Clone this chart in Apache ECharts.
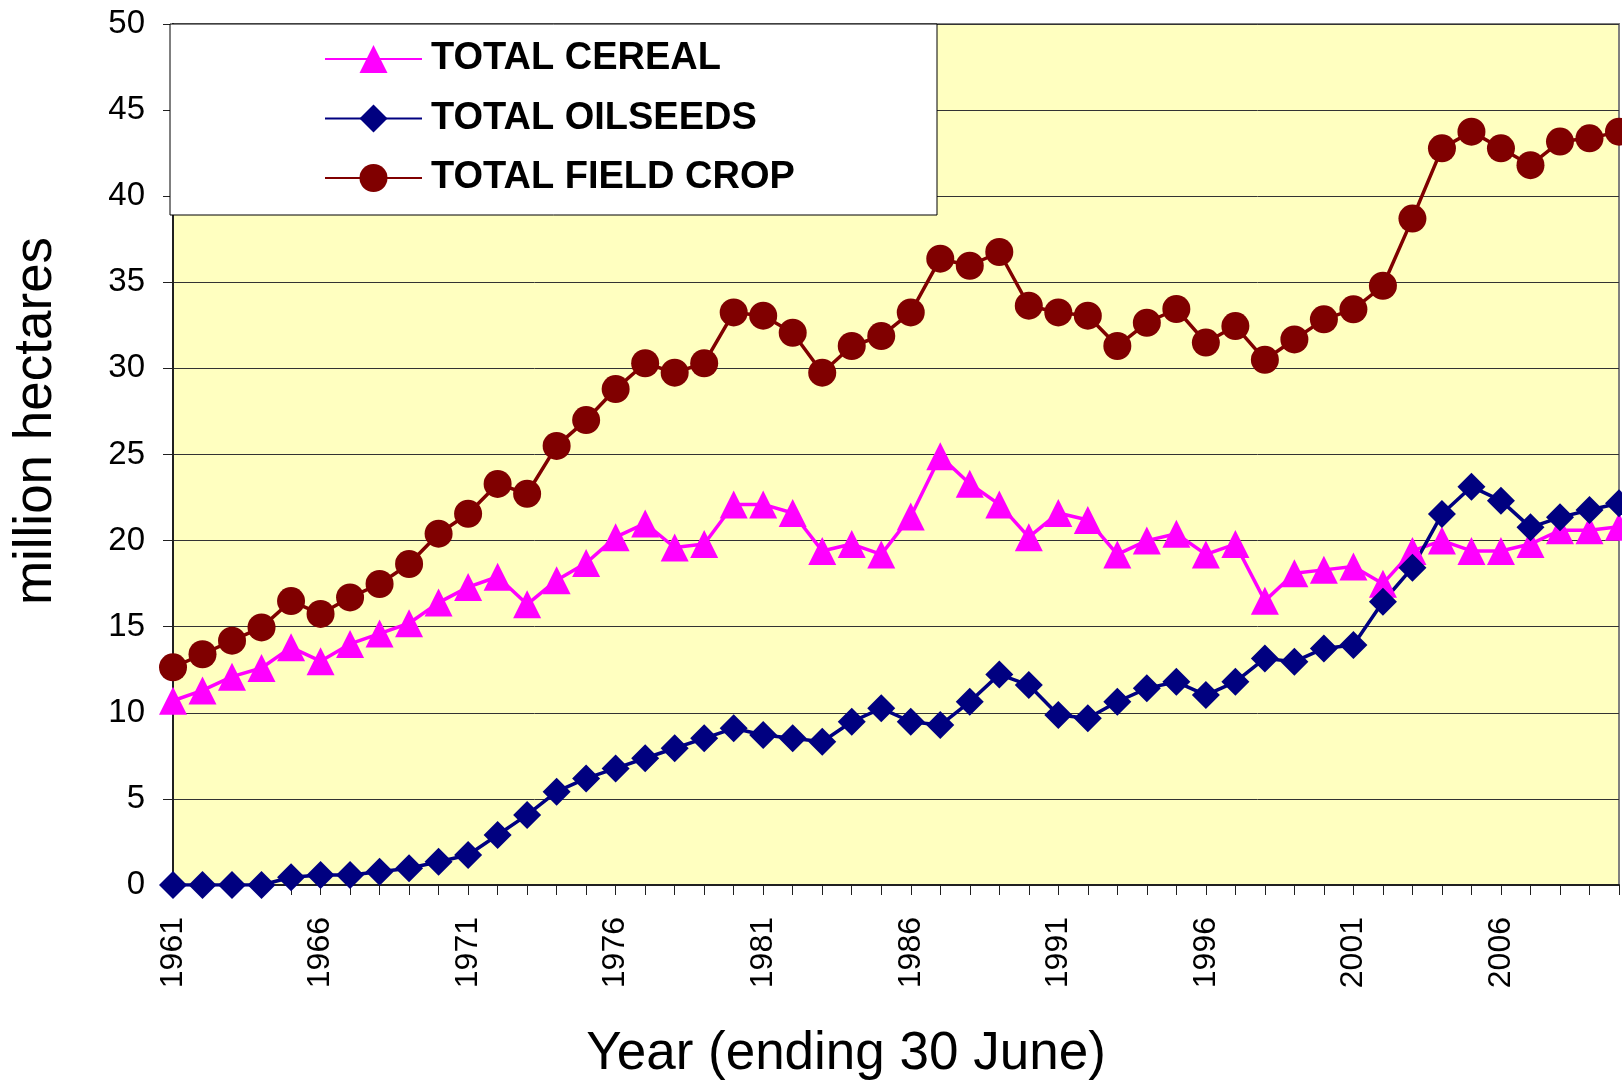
<!DOCTYPE html>
<html>
<head>
<meta charset="utf-8">
<script src="https://cdn.jsdelivr.net/npm/echarts@6/dist/echarts.min.js"></script>
<style>
  html, body { margin: 0; padding: 0; background: #fff; }
  #chart { width: 1622px; height: 1082px; }
</style>
</head>
<body>
<div id="chart"></div>
<script>
// years (ending 30 June)
const years = ['1961', '1962', '1963', '1964', '1965', '1966', '1967', '1968', '1969', '1970',
  '1971', '1972', '1973', '1974', '1975', '1976', '1977', '1978', '1979', '1980',
  '1981', '1982', '1983', '1984', '1985', '1986', '1987', '1988', '1989', '1990',
  '1991', '1992', '1993', '1994', '1995', '1996', '1997', '1998', '1999', '2000',
  '2001', '2002', '2003', '2004', '2005', '2006', '2007', '2008', '2009', '2010']

// million hectares
const cereal = [10.7, 11.3, 12.1, 12.6, 13.8, 13.0, 14.0, 14.6, 15.2, 16.4,
  17.3, 17.9, 16.3, 17.7, 18.7, 20.2, 21.0, 19.6, 19.8, 22.1,
  22.1, 21.6, 19.4, 19.8, 19.2, 21.4, 24.9, 23.3, 22.1, 20.2,
  21.6, 21.2, 19.2, 20.0, 20.4, 19.2, 19.8, 16.5, 18.1, 18.3,
  18.5, 17.5, 19.4, 20.0, 19.4, 19.4, 19.8, 20.6, 20.6, 20.8]

const oilseeds = [0, 0, 0, 0, 0.45, 0.58, 0.58, 0.77, 0.97, 1.35,
  1.74, 2.9, 4.07, 5.42, 6.19, 6.77, 7.36, 7.94, 8.52, 9.1,
  8.71, 8.52, 8.32, 9.48, 10.26, 9.48, 9.29, 10.64, 12.23, 11.61,
  9.87, 9.68, 10.64, 11.42, 11.8, 11.03, 11.8, 13.16, 12.97, 13.74,
  13.94, 16.45, 18.43, 21.54, 23.13, 22.32, 20.77, 21.35, 21.78, 22.17]

const fieldCrop = [12.64, 13.4, 14.19, 14.96, 16.49, 15.74, 16.7, 17.48, 18.64, 20.4,
  21.56, 23.29, 22.72, 25.5, 27.0, 28.8, 30.3, 29.75, 30.3, 33.25,
  33.06, 32.07, 29.75, 31.3, 31.88, 33.25, 36.37, 35.96, 36.76, 33.64,
  33.25, 33.06, 31.3, 32.65, 33.45, 31.5, 32.46, 30.5, 31.68, 32.85,
  33.43, 34.8, 38.7, 42.78, 43.75, 42.78, 41.8, 43.17, 43.36, 43.75]

const seriesNames = ['TOTAL CEREAL', 'TOTAL OILSEEDS', 'TOTAL FIELD CROP']

const font = '"Liberation Sans", Arial, sans-serif'

function lineSeries (name, data, color, symbol) {
  return {
    name: name,
    type: 'line',
    data: data,
    symbol: symbol,
    symbolSize: 28,
    showAllSymbol: true,
    lineStyle: { color: color, width: 3.5 },
    itemStyle: { color: color },
    emphasis: { disabled: true }
  }
}

const chart = echarts.init(document.getElementById('chart'))
chart.setOption({
  animation: false,
  textStyle: { fontFamily: font },
  grid: {
    left: 173,
    right: 3,
    top: 24,
    bottom: 197,
    show: true,
    backgroundColor: '#FFFFC0',
    borderColor: '#808080',
    borderWidth: 2
  },
  legend: {
    z: 100,
    orient: 'vertical',
    left: 324,
    top: 40,
    padding: 0,
    itemWidth: 97,
    itemHeight: 35,
    itemGap: 21.5,
    data: seriesNames,
    textStyle: {
      color: '#000',
      fontFamily: font,
      fontWeight: 'bold',
      fontSize: 38,
      lineHeight: 35,
      padding: [0, 0, 0, 4]
    }
  },
  graphic: [
    { // legend box
      type: 'rect',
      z: 50,
      shape: { x: 170, y: 24, width: 767, height: 191 },
      style: { fill: '#fff', stroke: '#000', lineWidth: 1 }
    },
    {
      type: 'text',
      z: 50,
      x: 36,
      y: 421,
      rotation: Math.PI / 2,
      style: {
        text: 'million hectares',
        font: '53px ' + font,
        fill: '#000',
        align: 'center',
        verticalAlign: 'middle'
      }
    },
    {
      type: 'text',
      z: 50,
      x: 846,
      y: 1054,
      style: {
        text: 'Year (ending 30 June)',
        font: '53px ' + font,
        fill: '#000',
        align: 'center',
        verticalAlign: 'middle'
      }
    }
  ],
  xAxis: {
    type: 'category',
    data: years,
    boundaryGap: false,
    axisLine: { show: true, lineStyle: { color: '#202020', width: 2 } },
    axisTick: { show: true, interval: 0, length: 10, lineStyle: { color: '#202020', width: 1 } },
    axisLabel: {
      interval: 4,
      rotate: 90,
      margin: 32,
      color: '#000',
      fontSize: 32,
      fontFamily: font
    },
    splitLine: { show: false }
  },
  yAxis: {
    type: 'value',
    min: 0,
    max: 50,
    interval: 5,
    axisLine: { show: true, lineStyle: { color: '#202020', width: 2 } },
    axisTick: { show: true, length: 10, lineStyle: { color: '#202020', width: 1 } },
    axisLabel: { margin: 28, color: '#000', fontSize: 33, fontFamily: font },
    splitLine: { show: true, lineStyle: { color: '#333', width: 1 } }
  },
  series: [
    lineSeries(seriesNames[0], cereal, '#FF00FF', 'triangle'),
    lineSeries(seriesNames[1], oilseeds, '#000080', 'diamond'),
    lineSeries(seriesNames[2], fieldCrop, '#800000', 'circle')
  ]
})
</script>
</body>
</html>
